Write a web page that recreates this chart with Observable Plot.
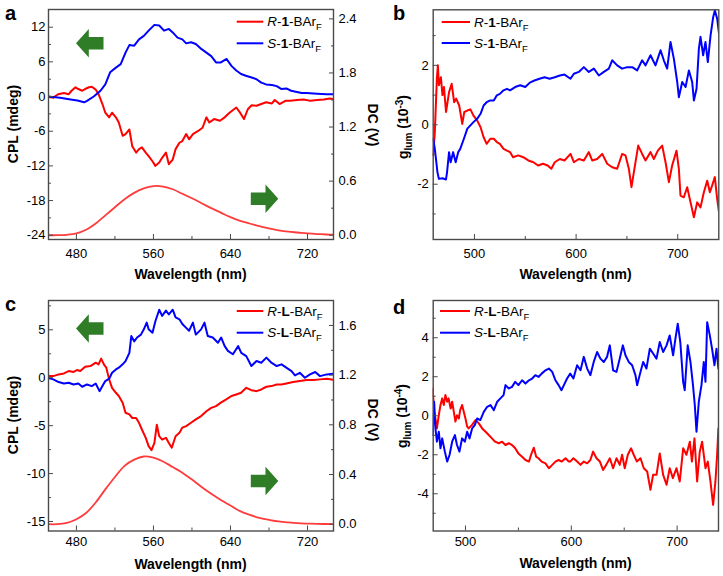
<!DOCTYPE html>
<html><head><meta charset="utf-8">
<script src="https://cdn.jsdelivr.net/npm/d3@7"></script>
<script src="https://cdn.jsdelivr.net/npm/@observablehq/plot@0.6"></script>
<style>
body{margin:0;background:#fff;}
#wrap{position:relative;width:723px;height:576px;overflow:hidden;background:#fff;}
#wrap svg{position:absolute;overflow:visible;}
</style></head><body><div id="wrap"></div>
<script>
// ---------- DATA ----------
// panel a : CPL (mdeg) of R-1-BArF / S-1-BArF, DC (V)
const aRw = [450,456,461,467,472,475,479,482,486,489,493,496,500,503,507,510,514,517,521,524,528,531,535,538,542,545,548,552,555,559,562,566,569,573,576,580,583,587,590,594,597,601,606,611,615,618,623,629,634,639,646,650,654,658,662,667,672,677,683,686,691,697,702,709,716,723,730,737,743,749];
const aRv = [0,-0.2,0.4,0.6,0.4,1.0,1.6,1.3,1.0,1.3,1.6,1.7,1.2,0.4,-1.3,-2.8,-3.6,-2.8,-3.6,-4.5,-6.8,-6.5,-5.7,-8.6,-9.7,-9.1,-8.8,-9.7,-10.3,-11.2,-12.0,-11.4,-10.6,-9.7,-11.7,-10.9,-9.1,-8.0,-7.7,-6.5,-7.4,-6.5,-6.0,-5.4,-3.6,-4.5,-3.9,-4.2,-3.6,-2.8,-1.9,-2.8,-3.9,-2.2,-1.5,-1.6,-1.3,-1.0,-1.2,-0.6,-1.3,-0.75,-0.75,-0.6,-0.5,-0.75,-0.6,-0.5,-0.35,-0.5];
const aSw = [450,463,474,481,488,491,498,505,510,515,521,526,531,535,540,545,550,555,561,566,571,576,580,585,590,594,599,604,610,615,620,625,630,636,641,646,651,656,662,667,672,677,683,688,693,698,703,709,714,719,730,740,749];
const aSv = [0,-0.2,-0.5,-0.7,-1.0,-0.75,0,1.0,2.1,4.2,5.0,5.6,7.6,8.9,8.8,9.9,10.5,11.4,12.4,12.3,11.4,11.7,11.1,10.2,9.9,9.2,9.4,9.1,8.2,7.6,7.0,5.9,5.9,6.5,5.3,4.5,3.9,3.6,3.3,3.0,2.4,2.1,2.0,1.8,1.3,1.4,1.0,0.8,0.6,0.6,0.5,0.4,0.4];
const aDCw = [450,460,470,480,490,500,510,520,530,540,550,560,570,580,590,600,610,620,630,640,650,660,670,680,690,700,710,720,730,740,748];
const aDCv = [0,0,0.005,0.02,0.06,0.13,0.22,0.31,0.40,0.47,0.52,0.545,0.54,0.51,0.46,0.41,0.355,0.30,0.25,0.20,0.16,0.13,0.10,0.075,0.055,0.04,0.03,0.02,0.013,0.008,0.005];

// panel b : g_lum (10^-3)
const bRw = [459.4,461,463,464,465,467,468.5,470,472,473,475,477.6,480,482,485,488,490,493,496,499,502.6,506,509,512,515.6,519,522,525,528.6,532,535,538,543,548,553,558,562.6,567.5,572,575.6,579,584,588.6,594.5,597.8,602.7,607.6,612.5,615.8,620.7,625.7,630.6,635.5,640.4,645.3,648.6,651.9,654.5,656.8,661.1,665,668.3,673.2,676.5,680.4,684.7,688,691.3,694.5,698.8,701.1,702.7,706,709.3,712.6,715.9,719.1,722.4,725.7,729,731.6,733.9,736.5,738.8,740.8];
const bRv = [-1.03,-0.25,1.55,2.0,1.33,1.6,1.0,1.27,0.43,0.65,1.1,1.38,0.76,0.88,0.65,0.03,0.43,0.48,0.52,0.31,0.15,-0.08,-0.42,-0.64,-0.47,-0.47,-0.58,-0.64,-0.81,-0.87,-0.92,-1.09,-1.03,-1.09,-1.2,-1.26,-1.37,-1.31,-1.37,-1.48,-1.26,-1.15,-1.2,-0.98,-1.26,-1.15,-1.2,-0.92,-1.2,-1.15,-0.98,-1.31,-1.43,-1.48,-0.98,-1.03,-1.48,-2.1,-1.6,-0.7,-0.98,-1.2,-0.92,-1.15,-0.87,-0.7,-1.26,-1.93,-1.37,-0.87,-1.48,-2.38,-2.44,-2.1,-2.61,-3.11,-2.61,-2.78,-2.27,-1.88,-2.27,-2.04,-1.76,-2.49,-3.0];
const bSw = [459.4,461,463.6,465,468.5,472,473,475,476.6,479,481.5,484,486,489.6,493,496,499,502.6,506,509,512,515.6,519,522,525,528.6,532,535,540,545,550,554.5,559,564,569,574,579,584,588.6,594.5,597.8,602.7,607.6,612.5,617.5,622.4,627.3,632.2,635.5,640.4,645.3,650.3,655.2,660.1,665,668.3,673.2,678.1,683.1,686.3,689.6,692.9,696.2,699.5,701.1,704.4,707.7,711,714.2,715.9,718.5,720.8,722.4,725,727.3,729.6,732.3,734.9,736.5,738.8,740.8];
const bSv = [-0.47,-0.81,-1.6,-1.82,-1.8,-1.84,-1.6,-0.92,-1.26,-0.92,-1.26,-0.92,-0.81,-0.47,-0.13,-0.02,0.09,0.2,0.37,0.65,0.76,0.82,0.82,0.99,1.04,1.16,1.21,1.16,1.27,1.33,1.27,1.42,1.49,1.55,1.6,1.55,1.6,1.66,1.69,1.55,1.72,1.78,1.94,1.78,1.89,1.66,1.78,1.89,2.17,2.0,1.89,1.94,1.94,1.83,2.17,2.0,2.34,2.0,2.51,2.17,1.89,2.79,2.22,1.44,0.93,1.44,1.27,1.83,1.44,0.82,1.21,2.56,2.96,2.34,2.79,2.11,3.01,3.63,3.85,3.57,3.01];

// panel c : CPL (mdeg) of R-L-BArF / S-L-BArF, DC (V)
const cRw = [450,456,461.5,467,472,477,480.6,484,489,494.5,500,503,505.7,508.5,511,514,517,521,524,528,531,535,538,542,545,548,552,555,558,561,563.5,566,569,573,576,579,583,587,590,594,599,604,609.5,615,620,625,630,635.6,641,646,651,656.4,661.7,667,672,677.3,682.5,688,693,698,705,712,719,726,733,740,749];
const cRv = [0.17,0.17,0.35,0.45,0.7,0.6,0.8,0.7,1.15,1.22,1.57,1.4,2.0,1.4,1.05,-0.17,-1.05,-1.57,-1.9,-2.6,-3.65,-3.83,-4.2,-4.2,-4.7,-5.4,-6.27,-7.14,-7.56,-6.8,-4.9,-6.1,-6.45,-6.27,-6.8,-7.3,-6.1,-5.75,-5.2,-5.05,-4.7,-4.35,-4.0,-3.5,-3.14,-2.96,-2.6,-2.26,-1.9,-1.74,-1.57,-1.05,-1.3,-1.4,-1.22,-0.94,-0.87,-0.7,-0.7,-0.6,-0.45,-0.35,-0.24,-0.24,-0.17,-0.1,-0.24];
const cSw = [450,456,461.5,467,472,477,482,486,491,496,500,504,507,510,514,517,521,524,528,531,535,537,540,543,547,550,553,555,559,562,566,569,573,576,580,583,587,590,594,597,601,604,609.5,613,616.4,621.6,627,630.3,634,637.3,642.5,648,651.2,656.4,661.7,667,672,677.3,682.5,688,693,698,703.4,707,712,717.3,722.6,728,733,740,749];
const cSv = [0,-0.17,-0.45,-0.6,-0.52,-0.7,-0.6,-0.94,-0.7,-0.87,-0.6,-1.4,-0.87,-0.35,-0.1,0.52,0.87,1.05,1.4,1.74,2.6,4.35,3.8,4.2,4.5,5.05,5.75,5.05,4.7,5.9,7.1,6.45,7.0,6.6,7.1,6.3,6.1,5.6,5.2,4.9,5.75,4.5,5.05,5.75,4.35,4.2,3.65,4.2,3.3,2.8,2.45,3.3,2.6,2.26,1.22,1.74,1.57,2.1,1.57,1.22,1.4,1.05,0.7,0.24,0.52,0,0.35,0.6,0.17,0.35,0.45];
const cDCw = [450,460,470,480,490,500,510,520,530,540,550,560,570,580,590,600,610,620,630,640,650,660,670,680,690,700,710,720,730,748];
const cDCv = [0,0,0.01,0.04,0.09,0.175,0.28,0.38,0.47,0.52,0.545,0.535,0.505,0.46,0.415,0.36,0.30,0.245,0.195,0.15,0.105,0.075,0.05,0.035,0.022,0.014,0.008,0.005,0.003,0];

// panel d : g_lum (10^-4)
const dRw = [469,470.4,471.6,473,474.8,476.4,478,479.5,481,482.7,484,486,487.4,489,490.5,492,493.7,495,496.8,498.4,500,501.6,503,506,509.5,512.6,515.8,519,522,525,528,531.5,534.6,537.8,541,544,547,550,553.5,556.7,560,562,564.6,566.8,569,572,575.6,578.8,582,585,588,591,594.5,597.6,599,602,605.5,608.7,611.8,615,618,620.6,623.8,627,630,633,636.4,639.5,642.7,645.8,648,650.5,653.4,656.5,659,662,665.4,668.5,671.7,674.8,677.3,680.5,683.6,686.8,690,693,696,699.4,702.5,705.7,708.8,712,714,716.4,718.9,721.4,723.6,726.8,729,731.5,734,736.2,737.8,739];
const dRv = [1.4,0.2,-0.14,-0.65,0.03,0.55,0.89,0.55,1.06,0.72,0.89,0.37,0.72,0.2,-0.3,0.03,-0.14,0.29,0.55,0.2,-0.14,-0.56,-0.65,-0.48,-0.22,-0.39,-0.65,-0.82,-0.99,-1.16,-1.33,-1.41,-1.33,-1.5,-1.41,-1.5,-1.67,-1.93,-2.1,-2.27,-2.35,-2.0,-1.64,-2.1,-2.18,-2.35,-2.44,-2.69,-2.52,-2.35,-2.27,-2.35,-2.18,-2.35,-2.35,-2.18,-2.35,-2.52,-2.35,-2.44,-2.27,-1.84,-2.18,-2.35,-2.78,-2.52,-2.18,-2.69,-2.18,-2.52,-2.0,-2.69,-2.0,-1.67,-2.0,-2.35,-2.18,-2.69,-2.86,-3.8,-3.03,-3.03,-1.93,-3.03,-3.54,-2.69,-3.2,-2.69,-3.37,-1.67,-2.0,-1.33,-2.35,-1.16,-3.37,-1.84,-1.33,-2.69,-2.35,-3.37,-4.57,-3.37,-2.0,-0.65];
const dSw = [469,470.4,471.6,473,474.8,476.4,478,480.5,482.7,485,487.4,490,492,494.3,496.8,499.4,501.6,503.8,506.3,508.8,511,514,517.3,520.5,523.6,526.8,530,533,536,537.8,541,544,547,550,553.5,556.7,560,563,566,569,572,575.6,578.8,582,585,588,590.7,593,596,599,602,605.5,608.7,611.8,615,618,621.2,624.4,627.5,630.7,633.8,636.4,639.5,642.7,645.8,648.7,651.2,654.3,657.5,660.6,662.2,665.4,667.9,671,674.2,677.3,680.5,683.6,686.8,690,693,696.2,698.4,700.6,703,705.7,707.2,710,712.6,715,716.7,718.3,720.5,723,725.2,726.8,728.4,730.9,733,735.3,737.2,739];
const dSv = [-0.99,0.72,-0.65,-1.33,-0.82,-1.67,-1.16,-1.84,-2.35,-2.0,-1.33,-0.99,-1.5,-1.84,-1.16,-1.33,-0.82,-1.16,-0.65,-0.48,-0.14,-0.22,0.2,0.46,0.55,0.29,0.72,0.89,1.06,1.57,1.4,1.48,1.74,1.57,1.82,1.65,1.82,1.91,2.08,1.99,2.16,2.33,2.42,2.25,1.82,1.57,1.31,1.57,1.91,2.16,1.91,2.59,2.33,3.02,2.42,2.08,2.76,3.27,2.93,2.76,3.02,3.61,2.33,2.25,2.93,3.61,3.1,2.76,2.59,2.08,1.57,2.25,2.76,2.42,3.44,3.19,2.93,3.78,3.27,3.61,4.12,3.1,3.95,4.72,3.78,1.74,1.31,3.61,2.76,1.57,0.55,-0.82,0.72,1.57,2.76,1.74,4.8,4.12,3.44,2.59,3.44,2.42];

// ticks
const acXTicks = [480,560,640,720], acXMinor = [520,600,680];
const bdXTicks = [500,600,700], bdXMinor = [550,650];
const aYTicks = [-24,-18,-12,-6,0,6,12], aYMinor = [-21,-15,-9,-3,3,9];
const aDCTicks = [0,0.6,1.2,1.8,2.4], aDCMinor = [0.3,0.9,1.5,2.1];
const bYTicks = [-2,0,2], bYMinor = [-3,-1,1,3];
const cYTicks = [-15,-10,-5,0,5], cYMinor = [-12.5,-7.5,-2.5,2.5,7.5];
const cDCTicks = [0,0.4,0.8,1.2,1.6], cDCMinor = [0.2,0.6,1.0,1.4];
const dYTicks = [-4,-2,0,2,4], dYMinor = [-5,-3,-1,1,3,5];

// ---------- DRAWING ----------
const FONT = '"Liberation Sans", Arial, Helvetica, sans-serif';
const RED = "#ff0000", BLUE = "#0000ff", DCRED = "#ff3c3c", GREEN = "#2f7d27", AX = "#4a4a4a";
const wrap = document.getElementById("wrap");
const zip = (w, v) => w.map((x, i) => ({w: x, v: v[i]}));

function panel(c) {
  const marks = [];
  if (c.dc) {
    const {w, v, off, k} = c.dc;
    marks.push(Plot.line(zip(w, v), {x: "w", y: d => off + k * d.v, stroke: DCRED, strokeWidth: 1.8, curve: "catmull-rom", clip: true}));
  }
  marks.push(Plot.line(zip(c.rw, c.rv), {x: "w", y: "v", stroke: RED, strokeWidth: 2, clip: true}));
  marks.push(Plot.line(zip(c.sw, c.sv), {x: "w", y: "v", stroke: BLUE, strokeWidth: 2, clip: true}));
  marks.push(Plot.axisX(c.xMinor, {tickSize: -3, tickFormat: () => "", stroke: AX, label: null}));
  marks.push(Plot.axisX(c.xTicks, {tickSize: -5, tickPadding: c.xPad, stroke: AX, fill: "#000", label: null, tickFormat: d => String(d)}));
  marks.push(Plot.axisY(c.yMinor, {anchor: "left", tickSize: -3, tickFormat: () => "", stroke: AX, label: null}));
  marks.push(Plot.axisY(c.yTicks, {anchor: "left", tickSize: -5, tickPadding: c.yPad, stroke: AX, fill: "#000", label: null, tickFormat: d => String(d)}));
  if (c.dc) {
    const {off, k, ticks, minor} = c.dc;
    marks.push(Plot.axisY(minor.map(t => off + k * t), {anchor: "right", tickSize: -3, tickFormat: () => "", stroke: AX, label: null}));
    marks.push(Plot.axisY(ticks.map(t => off + k * t), {anchor: "right", tickSize: -5, tickPadding: 10, stroke: AX, fill: "#000", label: null, tickFormat: y => ((y - off) / k).toFixed(1)}));
  } else {
    marks.push(Plot.axisY(c.yTicks.concat(c.yMinor), {anchor: "right", tickSize: 0, tickFormat: () => "", label: null}));
  }
  marks.push(Plot.frame({stroke: AX, strokeWidth: 1.4}));
  const svg = Plot.plot({
    width: c.width, height: c.height,
    marginLeft: c.m[3], marginRight: c.m[1], marginTop: c.m[0], marginBottom: c.m[2],
    x: {domain: c.xDomain}, y: {domain: c.yDomain},
    style: {background: "transparent", overflow: "visible", fontFamily: FONT, fontSize: "13px", color: "#000"},
    marks
  });
  svg.style.position = "absolute";
  svg.style.left = c.left + "px";
  svg.style.top = c.top + "px";
  wrap.appendChild(svg);
  return svg;
}

function txt(svg, x, y, parts, o = {}) {
  const g = d3.select(svg).append("g").attr("transform", `translate(${x},${y}) rotate(${o.rotate || 0})`);
  const t = g.append("text").attr("text-anchor", o.anchor || "start").attr("font-size", o.size || 14)
    .attr("font-weight", o.weight || "normal").attr("fill", "#000").attr("font-family", FONT);
  for (const p of parts) {
    const s = t.append("tspan").text(p.t);
    if (p.i) s.attr("font-style", "italic");
    if (p.b) s.attr("font-weight", "bold");
    if (p.size) s.attr("font-size", p.size);
    if (p.dy) s.attr("dy", p.dy);
  }
}
function legend(svg, x0, x1, y, color, parts) {
  d3.select(svg).append("line").attr("x1", x0).attr("x2", x1).attr("y1", y).attr("y2", y)
    .attr("stroke", color).attr("stroke-width", 2);
  txt(svg, x1 + 4, y + 4.6, parts, {size: 13.5});
}
function arrow(svg, tx, cy, dir) {
  const hl = 12.8, hh = 14.3, sh = 6.2, L = 27.5;
  const pts = [[0, 0], [hl, -hh], [hl, -sh], [L, -sh], [L, sh], [hl, sh], [hl, hh]]
    .map(([dx, dy]) => [tx + dir * dx, cy + dy]);
  d3.select(svg).append("polygon").attr("points", pts.map(p => p.join(",")).join(" ")).attr("fill", GREEN);
}
const lab = (ch, id) => [{t: ch, i: 1}, {t: "-"}, {t: id, b: 1}, {t: "-BAr"}, {t: "F", size: 9.5, dy: 4}];
const glum = e => [{t: "g"}, {t: "lum", size: 10, dy: 4}, {t: " (10", dy: -4}, {t: e, size: 10, dy: -5}, {t: ")", dy: 5}];

// panel a
const A = panel({left: 0, top: 0, width: 362, height: 286, m: [9, 29, 47, 48],
  xDomain: [451, 747], yDomain: [-24.74, 15.06], xTicks: acXTicks, xMinor: acXMinor, yTicks: aYTicks, yMinor: aYMinor,
  xPad: 14, yPad: 8, rw: aRw, rv: aRv, sw: aSw, sv: aSv,
  dc: {w: aDCw, v: aDCv, off: -24, k: 15.6, ticks: aDCTicks, minor: aDCMinor}});
txt(A, 5, 20, [{t: "a"}], {size: 20, weight: "bold"});
txt(A, 17.5, 124, [{t: "CPL (mdeg)"}], {rotate: -90, anchor: "middle", weight: "bold"});
txt(A, 368, 125, [{t: "DC (V)"}], {rotate: 90, anchor: "middle", weight: "bold"});
txt(A, 190.5, 279, [{t: "Wavelength (nm)"}], {anchor: "middle", weight: "bold"});
legend(A, 236.7, 263.3, 21.7, RED, lab("R", "1"));
legend(A, 236.7, 263.3, 43.3, BLUE, lab("S", "1"));
arrow(A, 76, 43.3, 1);
arrow(A, 278.3, 198.7, -1);

// panel b
const B = panel({left: 362, top: 0, width: 361, height: 286, m: [9.3, 4.7, 47, 70.7],
  xDomain: [459.4, 740.4], yDomain: [-3.86, 3.87], xTicks: bdXTicks, xMinor: bdXMinor, yTicks: bYTicks, yMinor: bYMinor,
  xPad: 14, yPad: 9.5, rw: bRw, rv: bRv, sw: bSw, sv: bSv});
txt(B, 31, 20, [{t: "b"}], {size: 20, weight: "bold"});
txt(B, 46, 127, glum("-3"), {rotate: -90, anchor: "middle", weight: "bold"});
txt(B, 213.5, 279, [{t: "Wavelength (nm)"}], {anchor: "middle", weight: "bold"});
legend(B, 79.7, 108, 22, RED, lab("R", "1"));
legend(B, 79.7, 108, 43, BLUE, lab("S", "1"));

// panel c
const C = panel({left: 0, top: 286, width: 362, height: 290, m: [14, 29, 45.5, 48],
  xDomain: [451, 747], yDomain: [-15.99, 8.06], xTicks: acXTicks, xMinor: acXMinor, yTicks: cYTicks, yMinor: cYMinor,
  xPad: 11, yPad: 8, rw: cRw, rv: cRv, sw: cSw, sv: cSv,
  dc: {w: cDCw, v: cDCv, off: -15.28, k: 12.96, ticks: cDCTicks, minor: cDCMinor}});
txt(C, 5, 25, [{t: "c"}], {size: 20, weight: "bold"});
txt(C, 17.5, 129, [{t: "CPL (mdeg)"}], {rotate: -90, anchor: "middle", weight: "bold"});
txt(C, 368, 134, [{t: "DC (V)"}], {rotate: 90, anchor: "middle", weight: "bold"});
txt(C, 190.5, 283, [{t: "Wavelength (nm)"}], {anchor: "middle", weight: "bold"});
legend(C, 236.7, 263.3, 25, RED, lab("R", "L"));
legend(C, 236.7, 263.3, 46.7, BLUE, lab("S", "L"));
arrow(C, 76, 42.5, 1);
arrow(C, 278.3, 195, -1);

// panel d
const D = panel({left: 362, top: 286, width: 361, height: 290, m: [14, 5, 45.5, 70.7],
  xDomain: [469.5, 739.1], yDomain: [-5.91, 5.91], xTicks: bdXTicks, xMinor: bdXMinor, yTicks: dYTicks, yMinor: dYMinor,
  xPad: 11, yPad: 9.5, rw: dRw, rv: dRv, sw: dSw, sv: dSv});
txt(D, 31, 28, [{t: "d"}], {size: 20, weight: "bold"});
txt(D, 44.7, 130, glum("-4"), {rotate: -90, anchor: "middle", weight: "bold"});
txt(D, 213.5, 281.7, [{t: "Wavelength (nm)"}], {anchor: "middle", weight: "bold"});
legend(D, 78, 108, 25, RED, lab("R", "L"));
legend(D, 78, 108, 46.7, BLUE, lab("S", "L"));
</script></body></html>
